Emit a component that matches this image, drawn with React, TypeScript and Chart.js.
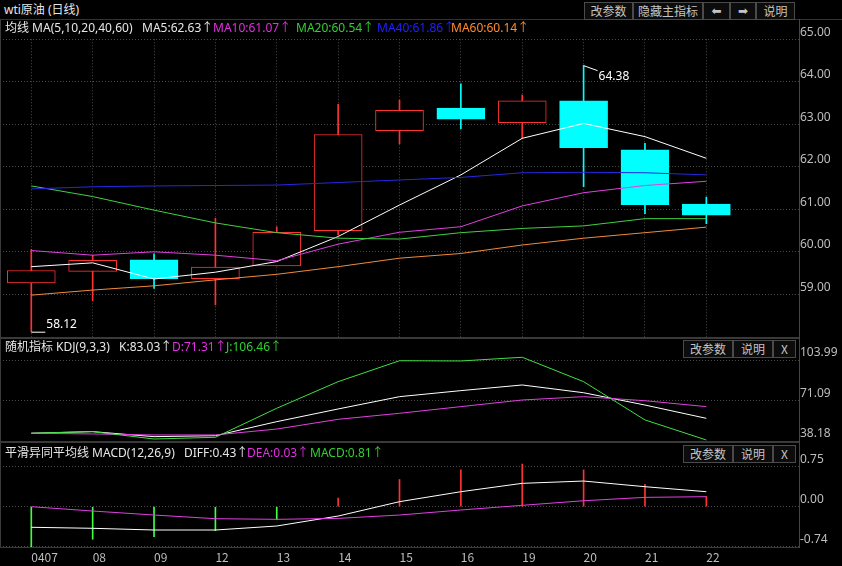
import React, { useEffect, useRef } from 'react';
import { Chart, registerables } from 'chart.js';

Chart.register(...registerables);

// ---------- data ----------
const dates = ['0407', '08', '09', '12', '13', '14', '15', '16', '19', '20', '21', '22'];
const openP = [59.27, 59.54, 59.81, 59.37, 59.67, 60.5, 62.85, 63.38, 63.04, 63.55, 62.4, 61.12];
const closeP = [59.56, 59.8, 59.36, 59.64, 60.46, 62.76, 63.33, 63.12, 63.55, 62.45, 61.11, 60.86];
const highP = [60.06, 59.92, 59.95, 60.79, 60.59, 63.47, 63.57, 63.95, 63.69, 64.38, 62.55, 61.29];
const lowP = [58.12, 58.85, 59.14, 58.75, 59.67, 60.4, 62.54, 62.9, 62.67, 61.53, 60.9, 60.66];

const ma5 = [59.65, 59.74, 59.36, 59.52, 59.77, 60.36, 61.1, 61.81, 62.67, 63.02, 62.71, 62.2];
const ma10 = [60.03, 59.92, 60.0, 59.92, 59.79, 60.18, 60.46, 60.59, 61.08, 61.39, 61.56, 61.66];
const ma20 = [61.55, 61.3, 60.98, 60.68, 60.45, 60.32, 60.3, 60.45, 60.55, 60.61, 60.78, 60.78];
const ma40 = [61.48, 61.53, 61.55, 61.56, 61.57, 61.63, 61.69, 61.75, 61.86, 61.87, 61.86, 61.81];
const ma60 = [58.98, 59.1, 59.2, 59.34, 59.47, 59.65, 59.85, 59.96, 60.16, 60.32, 60.45, 60.58];

const kLine = [44.5, 45.8, 41.7, 42.5, 53.9, 64.2, 74.2, 79.1, 83.7, 77.4, 67.4, 56.6];
const dLine = [44.5, 43.9, 43.1, 43.1, 47.9, 55.8, 60.7, 66.1, 71.5, 74.2, 70.9, 66.1];
const jLine = [44.5, 45.8, 39.8, 41.2, 64.8, 86.4, 103.4, 103.2, 106.2, 86.4, 55.3, 39.0];

const diffLine = [-0.386, -0.405, -0.437, -0.437, -0.362, -0.175, 0.094, 0.281, 0.438, 0.481, 0.375, 0.281];
const deaLine = [0.0, -0.081, -0.156, -0.225, -0.237, -0.219, -0.156, -0.062, 0.026, 0.112, 0.175, 0.188];
const macdHist = [-0.77, -0.61, -0.56, -0.45, -0.24, 0.16, 0.51, 0.69, 0.8, 0.69, 0.42, 0.19];

const priceTicks = [59, 60, 61, 62, 63, 64, 65];
const kdjTicks = [38.18, 71.09, 103.99];
const macdTicks = [-0.74, 0, 0.75];

// ---------- style ----------
const FONT = "'Noto Sans CJK SC', 'Noto Sans', sans-serif";
const LFONT = "'Noto Sans', 'Noto Sans CJK SC', sans-serif";
const UP = '#ff3232';
const DOWN = '#00ffff';
const GRID = '#4a4a4a';
const AXIS_TXT = '#bdbdbd';
const SEP = '#3a3a3a';
const C_MA5 = '#ffffff';
const C_MA10 = '#e040e0';
const C_MA20 = '#40d040';
const C_MA40 = '#2828e0';
const C_MA60 = '#f08a3c';

Chart.defaults.font.family = FONT;
Chart.defaults.font.size = 12;
Chart.defaults.color = AXIS_TXT;

const X_MIN = -0.51;
const X_MAX = 12.51;

function xScale(showGrid: boolean, showLabels: boolean): any {
  return {
    type: 'linear',
    min: X_MIN,
    max: X_MAX,
    offset: false,
    afterBuildTicks: (s: any) => {
      s.ticks = dates.map((_, i) => ({ value: i }));
    },
    grid: { display: showGrid, offset: false, color: GRID, drawTicks: false, lineWidth: 1 },
    border: { display: false, dash: [1, 2] },
    ticks: {
      display: showLabels,
      align: 'start',
      padding: 3,
      color: AXIS_TXT,
      autoSkip: false,
      maxRotation: 0,
      callback: (v: any) => dates[v] ?? '',
    },
    afterFit: (s: any) => {
      s.paddingLeft = 0;
      s.paddingRight = 0;
      s.height = showLabels ? 19 : 0;
    },
  };
}

function yScale(min: number, max: number, ticksArr: number[]): any {
  return {
    type: 'linear',
    position: 'right',
    min,
    max,
    afterBuildTicks: (s: any) => {
      s.ticks = ticksArr.map((v) => ({ value: v }));
    },
    grid: { color: GRID, drawTicks: false, lineWidth: 1 },
    border: { display: false, dash: [1, 2] },
    ticks: {
      color: AXIS_TXT,
      padding: 1,
      labelOffset: -7,
      autoSkip: false,
      font: { family: LFONT, size: 12 },
      callback: (v: any) => Number(v).toFixed(2),
    },
    afterFit: (s: any) => {
      s.width = 43;
      s.paddingTop = 0;
      s.paddingBottom = 0;
    },
  };
}

const pts = (arr: number[]) => arr.map((v, i) => ({ x: i, y: v }));

const lineDs = (data: number[], color: string) => ({
  type: 'line',
  data: pts(data),
  borderColor: color,
  borderWidth: 1,
  pointRadius: 0,
  tension: 0,
  fill: false,
  order: 1,
});

const extremaPlugin = {
  id: 'extrema',
  afterDatasetsDraw(chart: any) {
    const { ctx, scales } = chart;
    const x = scales.x;
    const y = scales.y;
    const hi = Math.max(...highP);
    const hiI = highP.indexOf(hi);
    const lo = Math.min(...lowP);
    const loI = lowP.indexOf(lo);
    ctx.save();
    ctx.strokeStyle = '#ffffff';
    ctx.fillStyle = '#ffffff';
    ctx.lineWidth = 1;
    ctx.font = `12px ${LFONT}`;
    ctx.textAlign = 'left';
    const hx = x.getPixelForValue(hiI);
    const hy = y.getPixelForValue(hi);
    ctx.beginPath();
    ctx.moveTo(hx, hy);
    ctx.lineTo(hx + 14, hy + 5);
    ctx.stroke();
    ctx.textBaseline = 'top';
    ctx.fillText(hi.toFixed(2), hx + 15, hy + 5);
    const lx = x.getPixelForValue(loI);
    const ly = y.getPixelForValue(lo);
    ctx.beginPath();
    ctx.moveTo(lx, ly + 0.5);
    ctx.lineTo(lx + 14, ly + 0.5);
    ctx.stroke();
    ctx.textBaseline = 'bottom';
    ctx.fillText(lo.toFixed(2), lx + 15, ly - 1);
    ctx.restore();
  },
};

const baseOptions = (padTop: number, padBottom: number) => ({
  responsive: false,
  maintainAspectRatio: false,
  animation: false,
  events: [],
  layout: { padding: { top: padTop, bottom: padBottom, left: 0, right: 0 } },
  plugins: { legend: { display: false }, tooltip: { enabled: false } },
});

function mainConfig(): any {
  const up = openP.map((o, i) => closeP[i] >= o);
  return {
    type: 'bar',
    data: {
      datasets: [
        {
          type: 'bar',
          data: dates.map((_, i) => ({ x: i, y: [lowP[i], highP[i]] })),
          backgroundColor: up.map((u) => (u ? UP : DOWN)),
          borderWidth: 0,
          barThickness: 1,
          grouped: false,
          order: 3,
        },
        {
          type: 'bar',
          data: dates.map((_, i) => ({ x: i, y: [openP[i], closeP[i]] })),
          backgroundColor: up.map((u) => (u ? '#000000' : DOWN)),
          borderColor: up.map((u) => (u ? UP : DOWN)),
          borderWidth: 1,
          borderSkipped: false,
          barThickness: 48,
          grouped: false,
          order: 2,
        },
        lineDs(ma60, C_MA60),
        lineDs(ma40, C_MA40),
        lineDs(ma20, C_MA20),
        lineDs(ma10, C_MA10),
        lineDs(ma5, C_MA5),
      ],
    },
    options: {
      ...baseOptions(19.3, 1.2),
      scales: { x: xScale(true, false), y: yScale(58, 65, priceTicks) },
    },
    plugins: [extremaPlugin],
  };
}

function kdjConfig(): any {
  return {
    type: 'line',
    data: {
      datasets: [lineDs(jLine, '#40e040'), lineDs(dLine, '#e040e0'), lineDs(kLine, '#ffffff')],
    },
    options: {
      ...baseOptions(2, 1),
      scales: { x: xScale(false, false), y: yScale(38.18, 120.24, kdjTicks) },
    },
  };
}

function macdConfig(): any {
  return {
    type: 'bar',
    data: {
      datasets: [
        {
          type: 'bar',
          data: macdHist.map((v, i) => ({ x: i, y: [0, v] })),
          backgroundColor: macdHist.map((v) => (v >= 0 ? UP : '#40ff40')),
          borderWidth: 0,
          barThickness: 1,
          grouped: false,
          order: 2,
        },
        lineDs(deaLine, '#e040e0'),
        lineDs(diffLine, '#ffffff'),
      ],
    },
    options: {
      ...baseOptions(2, 0),
      scales: { x: xScale(false, true), y: yScale(-0.7556, 1.1756, macdTicks) },
    },
  };
}

// ---------- overlay helpers ----------
function Txt(props: { x: number; cy: number; color: string; children: any }) {
  return (
    <div
      style={{
        position: 'absolute',
        left: props.x,
        top: props.cy - 8,
        height: 16,
        lineHeight: '16px',
        fontSize: 12,
        fontFamily: LFONT,
        color: props.color,
        whiteSpace: 'nowrap',
        zIndex: 3,
      }}
    >
      {props.children}
    </div>
  );
}

function Btn(props: { x: number; y: number; w: number; h: number; label: string; arrow?: boolean }) {
  return (
    <div
      style={{
        position: 'absolute',
        left: props.x,
        top: props.y,
        width: props.w,
        height: props.h,
        boxSizing: 'border-box',
        border: '1px solid #4a4a4a',
        background: '#0c0c0c',
        color: '#c4c4c4',
        fontSize: 12,
        fontFamily: props.arrow ? "'DejaVu Sans', sans-serif" : FONT,
        lineHeight: `${props.h - 2}px`,
        textAlign: 'center',
        whiteSpace: 'nowrap',
        zIndex: 4,
      }}
    >
      {props.label}
    </div>
  );
}

function Line(props: { x: number; y: number; w: number; h: number; c?: string }) {
  return (
    <div
      style={{
        position: 'absolute',
        left: props.x,
        top: props.y,
        width: props.w,
        height: props.h,
        background: props.c ?? SEP,
        zIndex: 2,
      }}
    />
  );
}

export default function App() {
  const mainRef = useRef<HTMLCanvasElement>(null);
  const kdjRef = useRef<HTMLCanvasElement>(null);
  const macdRef = useRef<HTMLCanvasElement>(null);

  useEffect(() => {
    const charts = [
      new Chart(mainRef.current as HTMLCanvasElement, mainConfig()),
      new Chart(kdjRef.current as HTMLCanvasElement, kdjConfig()),
      new Chart(macdRef.current as HTMLCanvasElement, macdConfig()),
    ];
    return () => charts.forEach((c) => c.destroy());
  }, []);

  const cv = (top: number, h: number): any => ({
    position: 'absolute',
    left: 0,
    top,
    width: 842,
    height: h,
    zIndex: 1,
  });

  return (
    <div
      style={{
        position: 'absolute',
        left: 0,
        top: 0,
        width: 842,
        height: 566,
        background: '#000',
        overflow: 'hidden',
        fontFamily: FONT,
      }}
    >
      <canvas ref={mainRef} width={842} height={318} style={cv(20, 318)} />
      <canvas ref={kdjRef} width={842} height={104} style={cv(338, 104)} />
      <canvas ref={macdRef} width={842} height={124} style={cv(442, 124)} />

      {/* frame lines */}
      <Line x={0} y={19} w={842} h={1} c="#333" />
      <Line x={0} y={337} w={800} h={2} />
      <Line x={0} y={441} w={800} h={2} />
      <Line x={0} y={547} w={800} h={1} />
      <Line x={0} y={19} w={1} h={529} />
      <Line x={799} y={19} w={1} h={529} c="#444" />

      {/* title row */}
      <Txt x={4} cy={10} color="#e6e6e6">wti原油 (日线)</Txt>
      <Btn x={584} y={2} w={49} h={18} label="改参数" />
      <Btn x={633} y={2} w={70} h={18} label="隐藏主指标" />
      <Btn x={703} y={2} w={27} h={18} label="⬅" arrow />
      <Btn x={730} y={2} w={26} h={18} label="➡" arrow />
      <Btn x={756} y={2} w={39} h={18} label="说明" />

      {/* main legend */}
      <Txt x={5} cy={28} color="#e6e6e6">均线 MA(5,10,20,40,60)</Txt>
      <Txt x={142} cy={28} color="#e6e6e6">MA5:62.63↑</Txt>
      <Txt x={213} cy={28} color="#e030e0">MA10:61.07↑</Txt>
      <Txt x={296} cy={28} color="#30d030">MA20:60.54↑</Txt>
      <Txt x={377} cy={28} color="#2020ff">MA40:61.86↑</Txt>
      <Txt x={451} cy={28} color="#ff8c30">MA60:60.14↑</Txt>

      {/* KDJ legend */}
      <Txt x={5} cy={347} color="#e6e6e6">随机指标 KDJ(9,3,3)</Txt>
      <Txt x={119} cy={347} color="#e6e6e6">K:83.03↑</Txt>
      <Txt x={172} cy={347} color="#e030e0">D:71.31↑</Txt>
      <Txt x={226} cy={347} color="#30d030">J:106.46↑</Txt>
      <Btn x={683} y={340} w={50} h={18} label="改参数" />
      <Btn x={733} y={340} w={40} h={18} label="说明" />
      <Btn x={773} y={340} w={23} h={18} label="X" />

      {/* MACD legend */}
      <Txt x={5} cy={453} color="#e6e6e6">平滑异同平均线 MACD(12,26,9)</Txt>
      <Txt x={184} cy={453} color="#e6e6e6">DIFF:0.43↑</Txt>
      <Txt x={247} cy={453} color="#e030e0">DEA:0.03↑</Txt>
      <Txt x={310} cy={453} color="#30d030">MACD:0.81↑</Txt>
      <Btn x={683} y={445} w={50} h={18} label="改参数" />
      <Btn x={733} y={445} w={40} h={18} label="说明" />
      <Btn x={773} y={445} w={23} h={18} label="X" />
    </div>
  );
}
